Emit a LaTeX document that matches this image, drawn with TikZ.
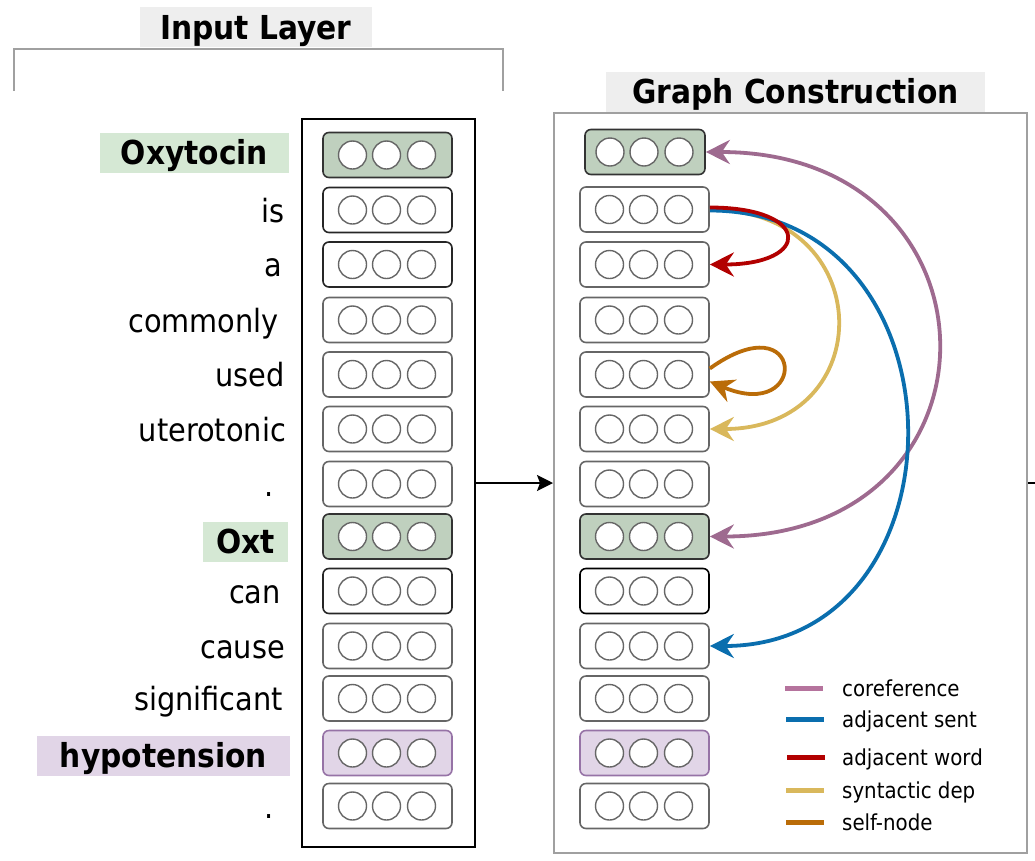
\documentclass[tikz,border=0pt]{standalone}
\usepackage{fontspec}
\setmainfont{DejaVu Sans Condensed}
\usetikzlibrary{calc,arrows.meta}
\definecolor{cellgray}{HTML}{666666}
\definecolor{framegray}{HTML}{A0A0A0}
\definecolor{titlegray}{HTML}{EEEEEE}
\definecolor{oxgreen}{HTML}{D5E8D4}
\definecolor{oxcellgreen}{HTML}{BFD0BE}
\definecolor{hypopurple}{HTML}{E1D5E7}
\definecolor{hypoborder}{HTML}{9673A6}
\definecolor{corefc}{HTML}{9E6A8F}
\definecolor{coreflegend}{HTML}{B5739D}
\definecolor{sentc}{HTML}{0A6EAE}
\definecolor{wordc}{HTML}{B20000}
\definecolor{depc}{HTML}{D9B85C}
\definecolor{selfc}{HTML}{BA6C08}
\tikzset{
	cell/.style={draw=cellgray, line width=1.6pt, rounded corners=6pt, minimum width=129pt, minimum height=45pt, inner sep=0pt, fill=white},
	darkcell/.style={draw=black!85},
	oxcell/.style={draw=black!80, fill=oxcellgreen},
	hypocell/.style={draw=hypoborder, fill=hypopurple},
	dot/.style={draw=cellgray, line width=1.4pt, fill=white},
	word/.style={anchor=east, inner sep=0pt, font=\fontsize{32}{38}\selectfont, text height=24pt, text depth=0pt},
	keyword/.style={inner sep=0pt, font=\fontsize{33}{38}\selectfont\bfseries, text height=23pt, text depth=0pt, minimum height=40pt},
	title/.style={fill=titlegray, inner sep=0pt, font=\fontsize{33}{40}\selectfont\bfseries, text height=24pt, text depth=0pt, minimum height=40pt},
	legend/.style={anchor=west, inner sep=0pt, font=\fontsize{22}{26}\selectfont, text height=16pt, text depth=0pt},
	arc/.style={line width=3.8pt, -{Stealth[length=24pt,width=24pt,inset=8pt]}},
}
% one embedding: rounded box with three units
\def\vecbox[#1](#2)#3{%
	\node[cell,#1] (#3) at (#2) {};
	\draw[dot] ($(#3)+(-35,0)$) circle (14pt);
	\draw[dot] ($(#3)+(-1,0)$) circle (14pt);
	\draw[dot] ($(#3)+(34,0)$) circle (14pt);}

\begin{document}
\begin{tikzpicture}[x=1pt,y=-1pt]
		%%%%% START %%%%%
		\useasboundingbox (0,0) rectangle (1035,860);
		
		\node[title, minimum width=232pt] (inputtitle) at (256,27) {Input Layer};
		\draw[framegray, line width=1.5pt] (14,91) -- (14,49) -- (503,49) -- (503,91);
		
		\node[draw=black, line width=1.8pt, minimum width=173pt, minimum height=728pt] (inputcol) at (388.5,483) {};
		\node[draw=framegray, line width=2pt, minimum width=473pt, minimum height=740pt] (graphcol) at (790.5,483) {};
		\node[title, minimum width=379pt] (graphtitle) at (795.5,91.5) {Graph Construction};
		
		\draw[line width=1.5pt, -{Stealth[length=16pt,width=16pt,inset=3pt]}] (inputcol.east) -- (graphcol.west);
		\draw[line width=1.5pt] (graphcol.east) -- ++(12,0);
		
		% words
		\node[keyword, fill=oxgreen, minimum width=189pt] (w1) at (194.5,153) {Oxytocin};
		\node[word] (w2) at (285,210) {is};
		\node[word] (w3) at (282,264.5) {a};
		\node[word] (w4) at (279,320) {commonly};
		\node[word] (w5) at (285,374.5) {used};
		\node[word] (w6) at (286,429) {uterotonic};
		\node[word] (w7) at (274,484) {.};
		\node[keyword, fill=oxgreen, minimum width=85pt] (w8) at (245.5,542) {Oxt};
		\node[word] (w9) at (281,591) {can};
		\node[word] (w10) at (285,646) {cause};
		\node[word] (w11) at (283,698.5) {significant};
		\node[keyword, fill=hypopurple, minimum width=253pt] (w12) at (163.5,756) {hypotension};
		\node[word] (w13) at (274,806) {.};
		
		% input embeddings
		\vecbox[oxcell](387.5,155){e1}
		\vecbox[darkcell](387.5,210){e2}
		\vecbox[darkcell](387.5,264.5){e3}
		\vecbox[](387.5,320){e4}
		\vecbox[](387.5,374.5){e5}
		\vecbox[](387.5,429){e6}
		\vecbox[](387.5,484){e7}
		\vecbox[oxcell](387.5,536.5){e8}
		\vecbox[darkcell](387.5,591){e9}
		\vecbox[](387.5,646){e10}
		\vecbox[](387.5,698.5){e11}
		\vecbox[hypocell](387.5,753){e12}
		\vecbox[](387.5,806){e13}
		
		% graph nodes
		\vecbox[oxcell, minimum width=120pt](645,152){g1}
		\vecbox[](644.5,209.5){g2}
		\vecbox[](644.5,264.5){g3}
		\vecbox[](644.5,320){g4}
		\vecbox[](644.5,374.5){g5}
		\vecbox[](644.5,429){g6}
		\vecbox[](644.5,484){g7}
		\vecbox[oxcell](644.5,536.5){g8}
		\vecbox[draw=black](644.5,591){g9}
		\vecbox[](644.5,646){g10}
		\vecbox[](644.5,698.5){g11}
		\vecbox[hypocell](644.5,753){g12}
		\vecbox[](644.5,806){g13}
		
		% edges
		\draw[arc, corefc, {Stealth[length=24pt,width=24pt,inset=8pt]}-{Stealth[length=24pt,width=24pt,inset=8pt]}] (g8.east) .. controls +(305,0) and +(305,0) .. (g1.east);
		\draw[arc, depc] (g2.east) .. controls +(170,0) and +(170,0) .. (g6.east);
		\draw[arc, sentc] ([yshift=-1pt]g2.east) .. controls +(262,0) and +(262,0) .. (g10.east);
		\draw[arc, wordc] ([yshift=2pt]g2.east) .. controls +(102,0) and +(102,0) .. (g3.east);
		\draw[arc, selfc] ([yshift=6pt]g5.east) .. controls +(95,-68) and +(100,42) .. ([yshift=-7pt]g5.east);
		
		% legend
		\draw[line width=5pt, coreflegend] (785,688) -- (823,688);
		\node[legend] (lcoref) at (842,688) {coreference};
		\draw[line width=5pt, sentc] (786,719) -- (824,719);
		\node[legend] (lsent) at (842,719) {adjacent sent};
		\draw[line width=5pt, wordc] (787,757) -- (825,757);
		\node[legend] (lword) at (842,757) {adjacent word};
		\draw[line width=5pt, depc] (786,790) -- (824,790);
		\node[legend] (ldep) at (842,790) {syntactic dep};
		\draw[line width=5pt, selfc] (786,822) -- (824,822);
		\node[legend] (lself) at (842,822) {self-node};
		
		%%%%% END %%%%%
\end{tikzpicture}
\end{document}
